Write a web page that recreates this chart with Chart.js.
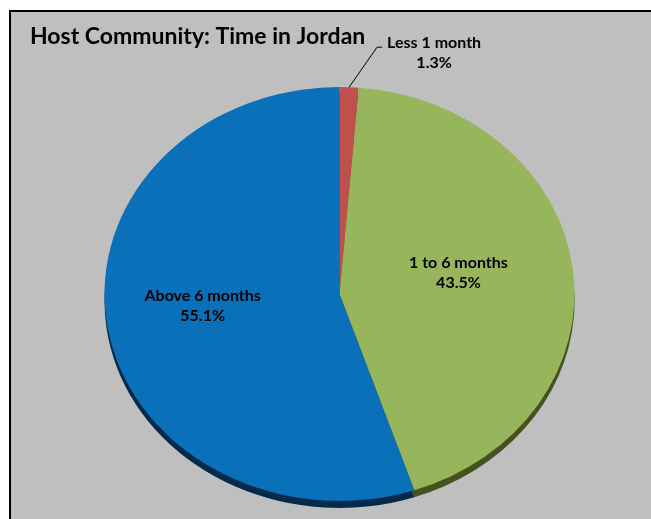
<!DOCTYPE html>
<html>
<head>
<meta charset="utf-8">
<script src="https://cdn.jsdelivr.net/npm/chart.js@4.4.1/dist/chart.umd.min.js"></script>
<style>
    body { margin: 0; background: #fff; width: 651px; height: 519px; overflow: hidden; }
    #frame {
        position: absolute; left: 9px; top: 10px;
        width: 642px; height: 509px;
        border-left: 2px solid #000; border-top: 2px solid #000;
        background: #bfbfbf;
    }
    canvas { display: block; }
</style>
</head>
<body>
<div id="frame"><canvas id="timeInJordanChart" width="640" height="507"></canvas></div>
<script>
const categories = ['Less 1 month', '1 to 6 months', 'Above 6 months'];
const shares = [1.3, 43.5, 55.1];
const sliceColors = ['#c0504d', '#97b55a', '#0a70b9'];
const depthColors = ['#6b2a28', '#44521f', '#032a4a'];

const stretchX = 235 / 207; // pie is drawn as a flattened (tilted) disc
const depth = 7;
const labelFont = 'bold 16px Lato';

// squash the disc into an ellipse and give it a bottom edge
const tiltedPie = {
    id: 'tiltedPie',
    beforeDatasetsDraw(chart) {
        const ctx = chart.ctx;
        const arcs = chart.getDatasetMeta(0).data;
        const cx = arcs[0].x, cy = arcs[0].y;
        ctx.save();
        ctx.translate(cx, cy);
        ctx.scale(stretchX, 1);
        ctx.translate(-cx, -cy);
        arcs.forEach(function (a, i) {
            ctx.beginPath();
            ctx.moveTo(a.x, a.y + depth);
            ctx.arc(a.x, a.y + depth, a.outerRadius, a.startAngle, a.endAngle);
            ctx.closePath();
            ctx.fillStyle = depthColors[i];
            ctx.fill();
        });
    },
    afterDatasetsDraw(chart) {
        const ctx = chart.ctx;
        ctx.restore();
        const arcs = chart.getDatasetMeta(0).data;
        ctx.save();
        ctx.font = labelFont;
        ctx.fillStyle = '#000';
        ctx.textAlign = 'center';
        ctx.textBaseline = 'middle';
        arcs.forEach(function (a, i) {
            const mid = (a.startAngle + a.endAngle) / 2;
            const pct = shares[i].toFixed(1) + '%';
            if (shares[i] < 5) {
                // outside label with leader line
                const ex = a.x + Math.cos(mid) * a.outerRadius * stretchX;
                const ey = a.y + Math.sin(mid) * a.outerRadius;
                const bx = ex + 28, by = ey - 40;
                ctx.beginPath();
                ctx.moveTo(ex, ey);
                ctx.lineTo(bx, by);
                ctx.lineTo(bx + 5, by);
                ctx.strokeStyle = '#000';
                ctx.lineWidth = 1;
                ctx.stroke();
                ctx.fillText(categories[i], bx + 57, by - 4);
                ctx.fillText(pct, bx + 57, by + 16);
            } else {
                const frac = i === 1 ? 0.51 : 0.59;
                const lx = a.x + Math.cos(mid) * a.outerRadius * frac * stretchX;
                const ly = a.y + Math.sin(mid) * a.outerRadius * frac - 8;
                ctx.fillText(categories[i], lx, ly - 10);
                ctx.fillText(pct, lx, ly + 10);
            }
        });
        ctx.restore();
    }
};

const ctx1 = document.getElementById('timeInJordanChart').getContext('2d');
const timeInJordanChart = new Chart(ctx1, {
    type: 'pie',
    data: {
        labels: categories,
        datasets: [{
            data: shares,
            backgroundColor: sliceColors,
            borderWidth: 0
        }]
    },
    options: {
        responsive: false,
        animation: false,
        layout: { padding: { left: 19, right: 2, top: 0, bottom: 18 } },
        plugins: {
            legend: { display: false },
            tooltip: { enabled: false },
            title: {
                display: true,
                text: 'Host Community: Time in Jordan',
                align: 'start',
                color: '#000',
                font: { family: 'Lato', size: 23, weight: 'bold', lineHeight: 1.2 },
                padding: { top: 11.2, bottom: 36.2 }
            }
        }
    },
    plugins: [tiltedPie]
});
</script>
</body>
</html>
